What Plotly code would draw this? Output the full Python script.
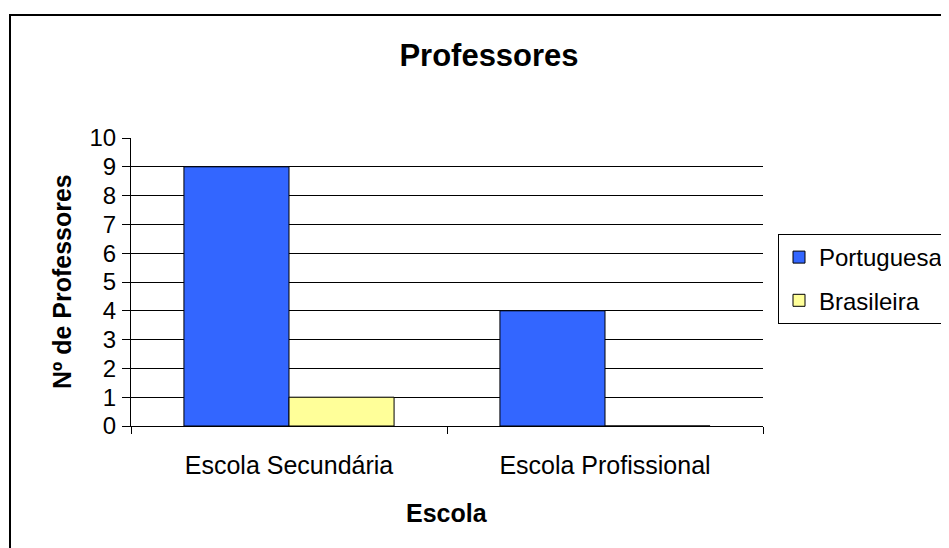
import plotly.graph_objects as go

categories = ["Escola Secundária", "Escola Profissional"]
portuguesa = [9, 4]
brasileira = [1, 0]
series_names = ["Portuguesa", "Brasileira"]
y_ticks = list(range(0, 11))

FONT = "Liberation Sans, Arial, sans-serif"

# page body has an 8px margin; figure coordinates are reference coordinates minus 8
OFF = 8
W, H = 949 - OFF, 548 - OFF
PX0, PX1 = 131 - OFF, 763 - OFF
PY0, PY1 = 138 - OFF, 426 - OFF
L, R, T, B = PX0, W - PX1, PY0, H - PY1
PW, PH = PX1 - PX0, PY1 - PY0


def u(x):
    return (x - OFF - PX0) / PW


def v(y):
    return (PY1 - (y - OFF)) / PH


fig = go.Figure()
fig.add_trace(go.Bar(x=categories, y=portuguesa, name=series_names[0],
                     marker=dict(color="#3366FF", line=dict(color="#000000", width=1)),
                     legendgroup="a"))
fig.add_trace(go.Bar(x=categories, y=brasileira, name=series_names[1],
                     marker=dict(color="#FFFF99", line=dict(color="#000000", width=1)),
                     legendgroup="b"))

fig.update_layout(
    width=W, height=H,
    margin=dict(l=L, r=R, t=T, b=B, pad=0, autoexpand=False),
    paper_bgcolor="white", plot_bgcolor="white",
    font=dict(family=FONT, color="black", size=25),
    barmode="group", bargap=0.335, bargroupgap=0,
    title=dict(text="<b>Professores</b>", font=dict(size=31), x=u(489), xref="paper",
               xanchor="center", y=1 - (55 - OFF) / H, yanchor="middle"),
    showlegend=True,
    legend=dict(x=u(778), xanchor="left", y=v(279), yanchor="middle",
                bordercolor="black", borderwidth=1, bgcolor="white",
                font=dict(size=24), tracegroupgap=9, traceorder="grouped",
                itemwidth=30),
    xaxis=dict(showline=True, linecolor="black", linewidth=1, ticks="outside",
               ticklen=7, tickcolor="black", tickson="boundaries", showgrid=False,
               tickfont=dict(size=25), ticklabelstandoff=17),
    yaxis=dict(range=[0, 10], tickvals=y_ticks, showline=True, linecolor="black",
               linewidth=1, ticks="outside", ticklen=8, tickcolor="black",
               showgrid=True, gridcolor="black", gridwidth=1, zeroline=False,
               tickfont=dict(size=24), ticklabelstandoff=1),
    annotations=[
        dict(text="<b>Escola</b>", xref="paper", yref="paper", x=u(447), y=v(513),
             xanchor="center", yanchor="middle", showarrow=False, font=dict(size=25)),
        dict(text="<b>Nº de Professores</b>", xref="paper", yref="paper", x=u(62), y=v(282),
             xanchor="center", yanchor="middle", showarrow=False, textangle=-90,
             font=dict(size=25)),
    ],
)

fig.add_shape(type="rect", xref="paper", yref="paper",
              x0=u(10), x1=u(970), y0=v(15), y1=v(570),
              line=dict(color="black", width=2), layer="below")

fig.write_html("out.html")
